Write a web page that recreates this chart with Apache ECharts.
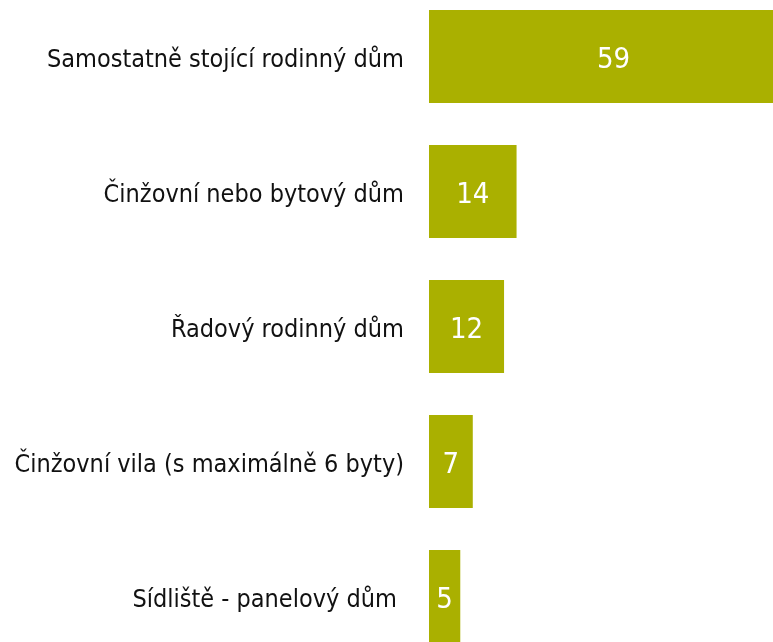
<!doctype html>
<html>
<head>
<meta charset="utf-8">
<title>Typ domu</title>
<script src="https://cdn.jsdelivr.net/npm/echarts@6/dist/echarts.min.js"></script>
<style>
    html,body{
        margin: 0;
        padding: 0;
        width: 100%;
        height: 100%;
        background: #fff;
        overflow: hidden;
    }
    /* graf je v originale oriznuty, proto vetsi plocha a posun nahoru */
    #bar_chart{
        position: absolute;
        left: 0;
        top: -11px;
        width: 773px;
        height: 675px;
    }
</style>
</head>
<body>
    <div id="bar_chart"></div>
</body>
<script>
    // kategorie shora dolu
    var categories = [
        'Samostatně stojící rodinný dům',
        'Činžovní nebo bytový dům',
        'Řadový rodinný dům',
        'Činžovní vila (s maximálně 6 byty)',
        'Sídliště - panelový dům '
    ];
    var values = [59, 14, 12, 7, 5];

    var bar_chart = echarts.init(document.getElementById('bar_chart'));
    var bar_option = {
        animation: false,
        grid: {
            left: 429,
            right: 0,
            top: 0,
            bottom: 0
        },
        xAxis: {
            type: 'value',
            min: 0,
            max: 55,
            show: false
        },
        yAxis: {
            type: 'category',
            inverse: true,
            data: categories,
            axisLine: {show: false},
            axisTick: {show: false},
            axisLabel: {
                margin: 25,
                color: '#111',
                fontSize: 25,
                fontFamily: 'DejaVu Sans Condensed',
                verticalAlign: 'top',
                lineHeight: 7
            }
        },
        series: [{
            type: 'bar',
            data: values,
            barWidth: 93,
            clip: false,
            itemStyle: {
                color: '#aab000'
            },
            label: {
                show: true,
                position: 'inside',
                color: '#fff',
                fontSize: 29,
                fontFamily: 'DejaVu Sans Condensed',
                offset: [0, 4]
            }
        }]
    };
    bar_chart.setOption(bar_option);
</script>
</html>
